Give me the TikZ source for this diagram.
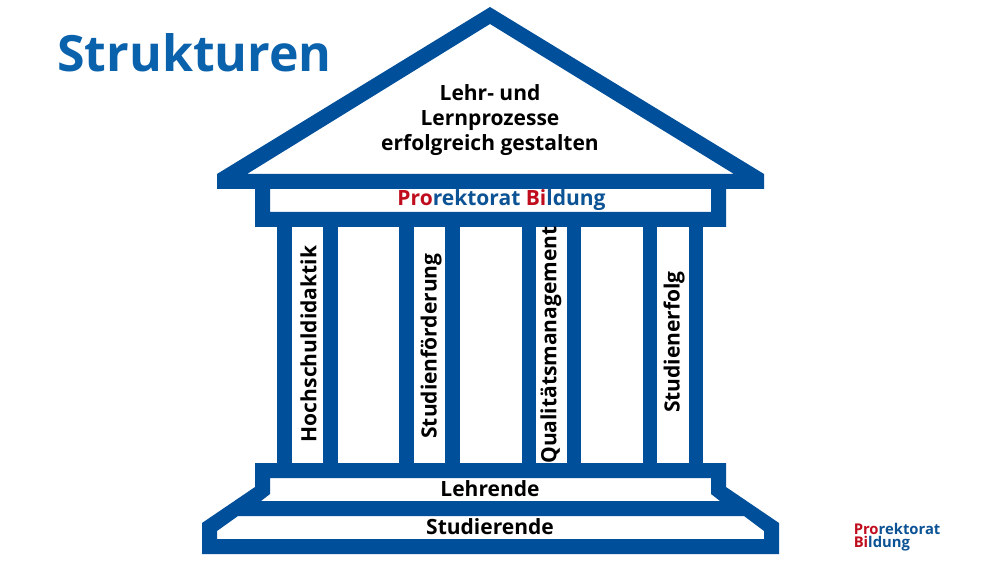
\documentclass[tikz,border=0pt]{standalone}
\usepackage{fontspec}
\setmainfont{Open Sans}
\definecolor{bau}{HTML}{004F9A}
\definecolor{titel}{HTML}{0A62AC}
\definecolor{rot}{HTML}{C00D1E}
\definecolor{logoblau}{HTML}{0B5394}
\newcommand{\rt}[1]{\textcolor{rot}{#1}}
\tikzset{x=0.75pt,y=-0.75pt,
 bauteil/.style={fill=bau,draw=none,even odd rule},
 saeule/.style={fill=bau,draw=none},
 label/.style={font=\fontsize{15.75}{18.75}\selectfont\bfseries,text=black,inner sep=0pt,align=center},
 stehend/.style={label,rotate=90}}
\begin{document}
\begin{tikzpicture}
\useasboundingbox[fill=white] (0,0) rectangle (1000,563);
% Dach
\path[bauteil] (490,7)--(764,174)--(764,189)--(217,189)--(217,174)--cycle
 (490,24)--(734,174)--(247,174)--cycle;
% Gebaelk
\path[bauteil] (255,188) rectangle (726,227) (270,189) rectangle (711,212);
% Saeulen
\foreach \a/\b in {277/292,323/338,399/414,445/460,522/536,567/581,643/657,689/703}
 \path[saeule] (\a,226) rectangle (\b,464);
% Sockel
\path[bauteil] (255,463)--(726,463)--(726,487)--(779,523)--(779,554)--(202,554)--(202,523)--(255,487)--cycle
 (270,478)--(711,478)--(711,494)--(720,501)--(261,501)--(270,494)--cycle
 (238,516)--(744,516)--(764,531)--(764,539)--(217,539)--(217,531)--cycle;
% Texte
\node[font=\fontsize{37.5}{45}\selectfont\bfseries,text=titel,inner sep=0pt,anchor=base west] (titel) at (57,72) {Strukturen};
\node[label] (dach) at (490,120) {Lehr- und\\Lernprozesse\\erfolgreich gestalten};
\node[label,text=logoblau] (prorektorat) at (501.5,200) {\rt{Pro}rektorat \rt{Bi}ldung};
\node[stehend] (s1) at (308.5,344) {Hochschuldidaktik};
\node[stehend] (s2) at (431,346) {Studienförderung};
\node[stehend] (s3) at (551,345) {Qualitätsmanagement};
\node[stehend] (s4) at (674,342) {Studienerfolg};
\node[label] (lehrende) at (490,489) {Lehrende};
\node[label] (studierende) at (490,527) {Studierende};
\node[font=\fontsize{11.1}{9.75}\selectfont\bfseries,text=logoblau,inner sep=0pt,align=left,anchor=north west] (logo) at (853.5,522.5) {\rt{Pro}rektorat\\\rt{Bi}ldung};
\end{tikzpicture}
\end{document}
